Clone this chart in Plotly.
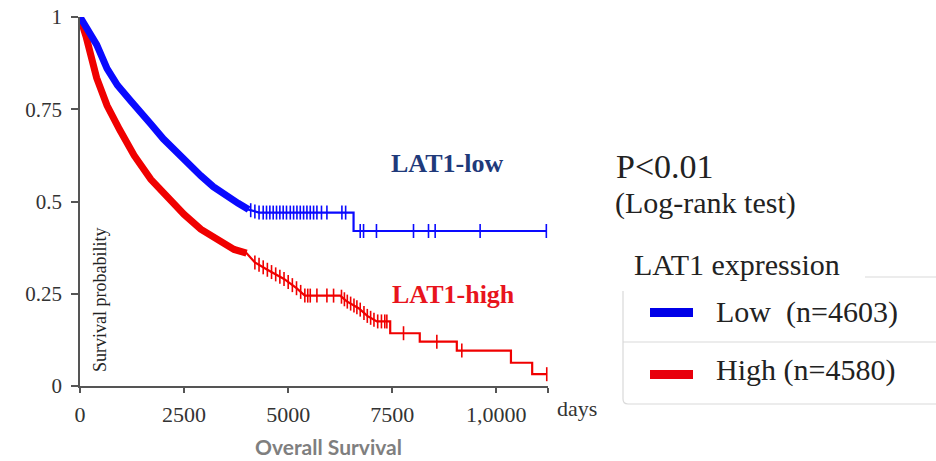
import plotly.graph_objects as go

# Kaplan-Meier vertices (day, survival probability) per LAT1 group
low_days = [0, 200, 400, 650, 900, 1200, 1450, 1700, 2000, 2300, 2600, 2900,
            3200, 3500, 3800, 4050, 4300, 6570, 6570, 11200]
low_surv = [1.0, 0.96, 0.925, 0.86, 0.815, 0.775, 0.745, 0.71, 0.67, 0.635,
            0.605, 0.57, 0.54, 0.515, 0.495, 0.478, 0.47, 0.47, 0.42, 0.42]

high_days = [0, 150, 400, 650, 950, 1300, 1700, 2100, 2500, 2900, 3300, 3700,
             4000, 4200, 4500, 4900, 5200, 5400, 6250, 6400, 6700, 6900, 7130,
             7450, 7450, 8160, 8160, 9050, 9050, 10350, 10350, 10860, 10860, 11210]
high_surv = [1.0, 0.945, 0.835, 0.76, 0.695, 0.625, 0.56, 0.51, 0.465, 0.425,
             0.395, 0.37, 0.36, 0.335, 0.315, 0.29, 0.265, 0.245, 0.245, 0.23,
             0.21, 0.19, 0.175, 0.175, 0.143, 0.143, 0.12, 0.12, 0.096, 0.096,
             0.063, 0.063, 0.032, 0.032]

# censored observations (days)
low_censor = [4100, 4200, 4300, 4400, 4480, 4560, 4640, 4720, 4800, 4880, 4960,
              5050, 5130, 5210, 5290, 5370, 5450, 5530, 5610, 5690, 5800, 5930,
              6290, 6380, 6730, 6810, 7120, 8010, 8370, 8530, 9610, 11200]
high_censor = [4200, 4300, 4400, 4500, 4600, 4700, 4800, 4900, 5000, 5100, 5200,
               5300, 5400, 5470, 5530, 5690, 5930, 6090, 6280, 6350, 6420, 6500,
               6580, 6650, 6730, 6820, 6900, 6980, 7060, 7150, 7240, 7320, 7370,
               7770, 8570, 9170, 11210]

# day up to which the dense censoring makes the curve look like a band
low_band_end = 4100
high_band_end = 4100

x_ticks = [0, 2500, 5000, 7500, 10000, 11240]
x_tick_text = ["0", "2500", "5000", "7500", "1,0000", ""]
y_ticks = [0, 0.25, 0.5, 0.75, 1]
y_tick_text = ["0", "0.25", "0.5", "0.75", "1"]

BLUE = "#0a0aff"
RED = "#f00000"
SERIF = "Liberation Serif, Times New Roman, serif"

W, H = 936, 461
ML, MR, MT, MB = 80, 388, 17, 75


def px(x):
    return (x - ML) / (W - ML - MR)


def py(y):
    return (H - MB - y) / (H - MT - MB)


def on_curve(days, surv, t):
    for i in range(len(days) - 1):
        d0, d1 = days[i], days[i + 1]
        if d0 <= t <= d1 and d1 > d0:
            return surv[i] + (surv[i + 1] - surv[i]) * (t - d0) / (d1 - d0)
    return surv[-1]


fig = go.Figure()

for days, surv, cens, band_end, col in [
    (high_days, high_surv, high_censor, high_band_end, RED),
    (low_days, low_surv, low_censor, low_band_end, BLUE),
]:
    band = [(d, s) for d, s in zip(days, surv) if d <= band_end]
    fig.add_trace(go.Scatter(
        x=[d for d, _ in band], y=[s for _, s in band], mode="lines",
        line=dict(color=col, width=7), showlegend=False, cliponaxis=False,
        hoverinfo="skip"))
    fig.add_trace(go.Scatter(
        x=days, y=surv, mode="lines", line=dict(color=col, width=2.2),
        showlegend=False, cliponaxis=False))
    fig.add_trace(go.Scatter(
        x=cens, y=[on_curve(days, surv, t) for t in cens], mode="markers",
        marker=dict(symbol="line-ns", size=10, line=dict(color=col, width=1.6)),
        showlegend=False, cliponaxis=False))

fig.update_xaxes(
    range=[0, 11240], tickvals=x_ticks, ticktext=x_tick_text,
    showline=True, linecolor="#555", linewidth=1.5, ticks="outside",
    ticklen=5, tickwidth=1.5, tickcolor="#555", showgrid=False, zeroline=False,
    tickfont=dict(family=SERIF, size=22, color="#333"), automargin=False,
    ticklabelstandoff=3)
fig.update_yaxes(
    range=[0, 1], tickvals=y_ticks, ticktext=y_tick_text,
    showline=True, linecolor="#555", linewidth=1.5, ticks="outside",
    ticklen=7, tickwidth=1.5, tickcolor="#555", showgrid=False, zeroline=False,
    tickfont=dict(family=SERIF, size=21, color="#333"), automargin=False,
    ticklabelstandoff=5)

ann = []


def text(x, y, s, size, color="#222", family=SERIF, bold=False, xanchor="left", angle=0):
    ann.append(dict(
        x=px(x), y=py(y), xref="paper", yref="paper", text=f"<b>{s}</b>" if bold else s,
        showarrow=False, xanchor=xanchor, yanchor="middle", textangle=angle,
        borderpad=0, font=dict(family=family, size=size, color=color)))


text(390, 163, "LAT1-low", 26, color="#1f3a7a", bold=True)
text(391, 294, "LAT1-high", 26, color="#e8141c", bold=True)
text(100, 300, "Survival probability", 18, color="#222", xanchor="center", angle=-90)
text(556, 408, "days", 22, color="#333")
text(328, 446, "Overall Survival", 21, color="#7f7f7f",
     family="Lato, sans-serif", bold=True, xanchor="center")
text(615, 166, "P&lt;0.01", 34)
text(614, 203, "(Log-rank test)", 30)
text(633, 264, "LAT1 expression", 30)
text(715, 312, "Low&nbsp;&nbsp;(n=4603)", 30)
text(715, 370, "High (n=4580)", 30)

box = "#d9d9d9"
shapes = [
    dict(type="line", xref="paper", yref="paper", x0=px(865), x1=px(936),
         y0=py(277), y1=py(277), line=dict(color=box, width=1)),
    dict(type="line", xref="paper", yref="paper", x0=px(623), x1=px(936),
         y0=py(342), y1=py(342), line=dict(color=box, width=1)),
    dict(type="path", xref="paper", yref="paper",
         path=(f"M {px(623)},{py(291)} L {px(623)},{py(399)} "
               f"Q {px(623)},{py(404)} {px(628)},{py(404)} L {px(936)},{py(404)}"),
         line=dict(color=box, width=1.2)),
    dict(type="rect", xref="paper", yref="paper", x0=px(650), x1=px(693),
         y0=py(308), y1=py(317), fillcolor="#0000e8", line=dict(width=0)),
    dict(type="rect", xref="paper", yref="paper", x0=px(650), x1=px(693),
         y0=py(370), y1=py(379), fillcolor="#e8000c", line=dict(width=0)),
]

fig.update_layout(
    width=W, height=H, margin=dict(l=ML, r=MR, t=MT, b=MB),
    plot_bgcolor="white", paper_bgcolor="white",
    annotations=ann, shapes=shapes, showlegend=False)

fig.write_html("out.html")
